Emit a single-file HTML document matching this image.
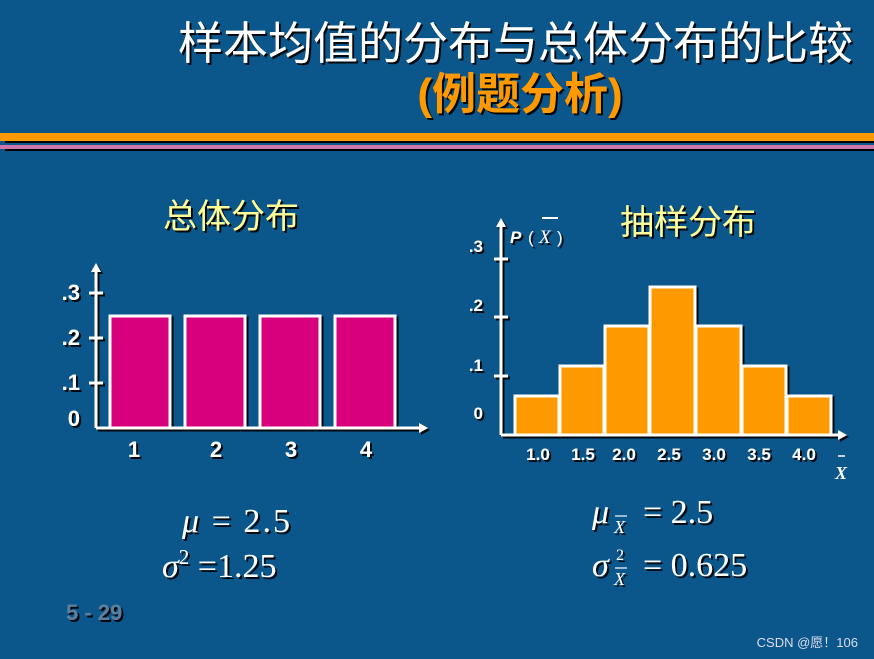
<!DOCTYPE html>
<html><head><meta charset="utf-8"><style>
body{margin:0;width:874px;height:659px;overflow:hidden;background:#0b568a;}
svg{display:block}
</style></head><body>
<svg width="874" height="659" xmlns="http://www.w3.org/2000/svg">
<defs><filter id="sh" x="-10%" y="-10%" width="130%" height="130%"><feDropShadow dx="2" dy="2" stdDeviation="0" flood-color="#000" flood-opacity="0.9"/></filter></defs>
<rect width="874" height="659" fill="#0b568a"/>
<g font-family="'Liberation Sans','Noto Sans CJK SC',sans-serif">
<text x="853" y="59" text-anchor="end" font-size="45" fill="#fff" filter="url(#sh)" textLength="675" lengthAdjust="spacingAndGlyphs">样本均值的分布与总体分布的比较</text>
<text x="520" y="109" text-anchor="middle" font-size="44" font-weight="bold" fill="#ff9900" filter="url(#sh)">(例题分析)</text>
</g>
<rect x="0" y="133" width="874" height="8" fill="#ff9900"/>
<rect x="5" y="141" width="869" height="2" fill="#000"/>
<rect x="0" y="145" width="874" height="4" fill="#cc77aa"/>
<rect x="5" y="149" width="869" height="2" fill="#000"/>
<g font-family="'Liberation Sans','Noto Sans CJK SC',sans-serif">
<text x="231" y="228" text-anchor="middle" font-size="34" fill="#ffff99" filter="url(#sh)">总体分布</text>
<text x="688" y="234" text-anchor="middle" font-size="34" fill="#ffff99" filter="url(#sh)">抽样分布</text>
</g>
<!-- left chart -->
<g filter="url(#sh)" stroke="#fff" stroke-width="3">
<g fill="#d9007e">
<rect x="110" y="316" width="60" height="112"/>
<rect x="185" y="316" width="60" height="112"/>
<rect x="260" y="316" width="60" height="112"/>
<rect x="335" y="316" width="60" height="112"/>
</g>
<line x1="96" y1="428" x2="96" y2="270"/>
<line x1="96" y1="428" x2="420" y2="428"/>
<line x1="89" y1="293" x2="103" y2="293"/><line x1="89" y1="338" x2="103" y2="338"/><line x1="89" y1="383" x2="103" y2="383"/>
<polygon points="96,263 91,272 101,272" fill="#fff" stroke="none"/>
<polygon points="428,428 419,423 419,433" fill="#fff" stroke="none"/>
</g>
<g font-family="'Liberation Sans',sans-serif" font-weight="bold" font-size="22" fill="#fff" filter="url(#sh)">
<text x="80" y="300" text-anchor="end">.3</text><text x="80" y="345" text-anchor="end">.2</text><text x="80" y="390" text-anchor="end">.1</text><text x="80" y="426" text-anchor="end">0</text>
<text x="134" y="457" text-anchor="middle">1</text><text x="216" y="457" text-anchor="middle">2</text><text x="291" y="457" text-anchor="middle">3</text><text x="366" y="457" text-anchor="middle">4</text>
</g>
<!-- right chart -->
<g filter="url(#sh)" stroke="#fff" stroke-width="3">
<g fill="#ff9900">
<rect x="515" y="396" width="44" height="39"/>
<rect x="560" y="366" width="44" height="69"/>
<rect x="605" y="326" width="44" height="109"/>
<rect x="650" y="287" width="45" height="148"/>
<rect x="696" y="326" width="45" height="109"/>
<rect x="742" y="366" width="44" height="69"/>
<rect x="787" y="396" width="44" height="39"/>
</g>
<line x1="501" y1="435" x2="501" y2="225"/>
<line x1="501" y1="435" x2="840" y2="435"/>
<line x1="494" y1="259" x2="508" y2="259"/><line x1="494" y1="317" x2="508" y2="317"/><line x1="494" y1="376" x2="508" y2="376"/>
<polygon points="501,218 496,227 506,227" fill="#fff" stroke="none"/>
<polygon points="847,435 838,430 838,440" fill="#fff" stroke="none"/>
</g>
<g font-family="'Liberation Sans',sans-serif" font-weight="bold" font-size="17" fill="#fff" filter="url(#sh)">
<text x="483" y="252" text-anchor="end">.3</text><text x="483" y="311" text-anchor="end">.2</text><text x="483" y="371" text-anchor="end">.1</text><text x="483" y="419" text-anchor="end">0</text>
<text x="538" y="460" text-anchor="middle">1.0</text><text x="583" y="460" text-anchor="middle">1.5</text><text x="624" y="460" text-anchor="middle">2.0</text><text x="669" y="460" text-anchor="middle">2.5</text><text x="714" y="460" text-anchor="middle">3.0</text><text x="759" y="460" text-anchor="middle">3.5</text><text x="804" y="460" text-anchor="middle">4.0</text>
<text x="510" y="243" font-style="italic">P</text><text x="528" y="243" font-weight="normal">(</text>
<text x="539" y="243" font-family="'Liberation Serif',serif" font-style="italic" font-weight="normal" font-size="19">X</text>
<text x="557" y="243" font-weight="normal">)</text>
</g>
<line x1="542" y1="218" x2="558" y2="218" stroke="#fff" stroke-width="2"/>
<text x="835" y="479" font-family="'Liberation Serif',serif" font-style="italic" font-weight="bold" font-size="18" fill="#fff">X</text>
<line x1="838" y1="456" x2="845" y2="456" stroke="#fff" stroke-width="1.5"/>
<!-- formulas -->
<g font-family="'Liberation Serif',serif" font-size="34" fill="#fff" filter="url(#sh)">
<text x="182" y="532" textLength="108" lengthAdjust="spacing"><tspan font-style="italic">μ</tspan> = 2.5</text>
<text x="162" y="577"><tspan font-style="italic">σ</tspan><tspan font-size="21" dy="-13">2</tspan><tspan dy="13"> =1.25</tspan></text>
<text x="592" y="523" font-style="italic">μ</text>
<text x="614" y="533" font-style="italic" font-size="18">X</text>
<text x="643" y="523">= 2.5</text>
<text x="592" y="576" font-style="italic">σ</text>
<text x="616" y="560" font-size="16">2</text>
<text x="614" y="585" font-style="italic" font-size="18">X</text>
<text x="643" y="576">= 0.625</text>
</g>
<line x1="615" y1="516" x2="627" y2="516" stroke="#fff" stroke-width="1.2"/>
<line x1="615" y1="568" x2="627" y2="568" stroke="#fff" stroke-width="1.2"/>
<text x="66" y="620" font-family="'Liberation Sans',sans-serif" font-weight="bold" font-size="22" fill="#5a7f9f" filter="url(#sh)">5 - 29</text>
<text x="858" y="647" text-anchor="end" font-family="'Liberation Sans','Noto Sans CJK SC',sans-serif" font-size="13" fill="#dde">CSDN @愿！106</text>
</svg>
</body></html>
